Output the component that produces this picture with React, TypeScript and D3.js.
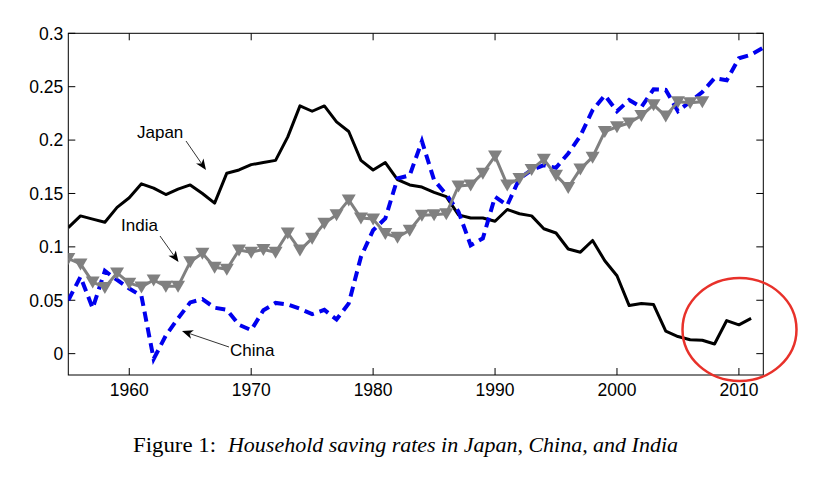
import React from 'react';
import { scaleLinear, line } from 'd3';

const firstYear = 1955;
const japan = [
  0.118, 0.129, 0.126, 0.123, 0.137, 0.146, 0.159, 0.155, 0.149, 0.154,
  0.158, 0.150, 0.141, 0.169, 0.172, 0.177, 0.179, 0.181, 0.203, 0.232,
  0.227, 0.232, 0.217, 0.208, 0.181, 0.172, 0.179, 0.163, 0.158, 0.156,
  0.151, 0.147, 0.130, 0.127, 0.127, 0.124, 0.135, 0.131, 0.129, 0.117,
  0.113, 0.098, 0.095, 0.106, 0.087, 0.073, 0.045, 0.047, 0.046, 0.021,
  0.016, 0.013, 0.0125, 0.009, 0.031, 0.027, 0.033,
];
const india = [
  0.089, 0.084, 0.067, 0.062, 0.0756, 0.066, 0.0625, 0.069, 0.063, 0.063,
  0.086, 0.094, 0.081, 0.079, 0.097, 0.095, 0.0975, 0.095, 0.113, 0.097,
  0.108, 0.122, 0.130, 0.144, 0.127, 0.126, 0.1125, 0.109, 0.1156, 0.1297,
  0.130, 0.131, 0.157, 0.158, 0.169, 0.185, 0.158, 0.164, 0.1725, 0.182,
  0.167, 0.1556, 0.173, 0.184, 0.208, 0.2125, 0.216, 0.223, 0.233, 0.2225,
  0.236, 0.235, 0.236,
];
const china = [
  0.050, 0.072, 0.0425, 0.0775, 0.069, 0.061, 0.054, -0.005, 0.017, 0.033,
  0.048, 0.051, 0.043, 0.041, 0.027, 0.022, 0.0406, 0.0475, 0.046, 0.042,
  0.037, 0.041, 0.032, 0.047, 0.0906, 0.1156, 0.1266, 0.164, 0.167, 0.199,
  0.1625, 0.149, 0.133, 0.1015, 0.108, 0.147, 0.139, 0.164, 0.172, 0.1765,
  0.174, 0.1875, 0.204, 0.228, 0.242, 0.227, 0.2375, 0.231, 0.2475, 0.247,
  0.227, 0.236, 0.245, 0.258, 0.256, 0.2766, 0.280, 0.2865,
];
const yTicks = [0, 0.05, 0.1, 0.15, 0.2, 0.25, 0.3];
const yTickLabels = ['0', '0.05', '0.1', '0.15', '0.2', '0.25', '0.3'];
const xTicks = [1960, 1970, 1980, 1990, 2000, 2010];
const captionHead = 'Figure 1:';
const captionBody = 'Household saving rates in Japan, China, and India';

const W = 836;
const H = 496;
const left = 68.3, right = 763.3, top = 33.3, bottom = 375;

const xScale = scaleLinear([1955, 2012], [left, right]);
const yScale = scaleLinear([-0.02, 0.3], [bottom, top]);

const toPts = (vals: number[]) => vals.map((v, i) => [firstYear + i, v] as [number, number]);
const lineGen = line<[number, number]>().x(d => xScale(d[0])).y(d => yScale(d[1]));

const font = '"Liberation Sans", Arial, Helvetica, sans-serif';
const serif = '"Liberation Serif", "Times New Roman", serif';

// thin line with a filled head at (x2,y2)
const Arrow = ({ x1, y1, x2, y2 }: { x1: number; y1: number; x2: number; y2: number }) => {
  const a = Math.atan2(y2 - y1, x2 - x1);
  const len = 11, wid = 4.5, back = 8;
  const ux = Math.cos(a), uy = Math.sin(a);
  const px = -uy, py = ux;
  const bx = x2 - ux * len, by = y2 - uy * len;
  const mx = x2 - ux * back, my = y2 - uy * back;
  const head = `M${x2},${y2} L${bx + px * wid},${by + py * wid} L${mx},${my} L${bx - px * wid},${by - py * wid} Z`;
  return (
    <g>
      <line x1={x1} y1={y1} x2={mx} y2={my} stroke="#000" strokeWidth={0.8} />
      <path d={head} fill="#000" />
    </g>
  );
};

const App = () => {
  const tri = 'M-7,-5.5 L7,-5.5 L0,6.5 Z';
  return (
    <div>
      <style>{`body{margin:0;background:#fff}`}</style>
      <svg width={W} height={H} style={{ display: 'block' }}>
        <rect width={W} height={H} fill="#fff" />
        <defs>
          <clipPath id="plot">
            <rect x={left} y={top} width={right - left} height={bottom - top} />
          </clipPath>
        </defs>

        {/* frame and ticks */}
        <rect x={left} y={top} width={right - left} height={bottom - top} fill="none" stroke="#000" strokeWidth={1} />
        {yTicks.map((t, i) => (
          <g key={'y' + i}>
            <line x1={left} x2={left + 7} y1={yScale(t)} y2={yScale(t)} stroke="#000" />
            <line x1={right} x2={right - 7} y1={yScale(t)} y2={yScale(t)} stroke="#000" />
            <text x={left - 5} y={yScale(t)} dy="0.36em" textAnchor="end" fontFamily={font} fontSize={17.5}>
              {yTickLabels[i]}
            </text>
          </g>
        ))}
        {xTicks.map(t => (
          <g key={'x' + t}>
            <line x1={xScale(t)} x2={xScale(t)} y1={bottom} y2={bottom - 7} stroke="#000" />
            <line x1={xScale(t)} x2={xScale(t)} y1={top} y2={top + 7} stroke="#000" />
            <text x={xScale(t)} y={bottom + 21} textAnchor="middle" fontFamily={font} fontSize={17.5}>
              {t}
            </text>
          </g>
        ))}

        <g clipPath="url(#plot)">
          <path d={lineGen(toPts(japan)) || ''} fill="none" stroke="#000" strokeWidth={3} strokeLinejoin="round" />
          <path d={lineGen(toPts(china)) || ''} fill="none" stroke="#0000ee" strokeWidth={4} strokeDasharray="10,6" />
          <path d={lineGen(toPts(india)) || ''} fill="none" stroke="#808080" strokeWidth={3} strokeLinejoin="round" />
          {toPts(india).map((d, i) => (
            <path key={i} d={tri} transform={`translate(${xScale(d[0])},${yScale(d[1])})`} fill="#808080" />
          ))}
        </g>

        {/* annotations */}
        <text x={137} y={138} fontFamily={font} fontSize={17}>Japan</text>
        <Arrow x1={186} y1={141} x2={206} y2={170} />
        <text x={121} y={231} fontFamily={font} fontSize={17}>India</text>
        <Arrow x1={160} y1={236} x2={178.5} y2={262} />
        <text x={230} y={356} fontFamily={font} fontSize={17}>China</text>
        <Arrow x1={229} y1={347} x2={182} y2={331} />

        <ellipse cx={739.5} cy={329.5} rx={57} ry={51.5} fill="none" stroke="#e8312a" strokeWidth={2.5} />

        <text x={133} y={452} fontFamily={serif} fontSize={20}
          textLength={83} lengthAdjust="spacingAndGlyphs">{captionHead}</text>
        <text x={228} y={452} fontFamily={serif} fontSize={20} fontStyle="italic"
          textLength={450} lengthAdjust="spacingAndGlyphs">{captionBody}</text>
      </svg>
    </div>
  );
};

export default App;
